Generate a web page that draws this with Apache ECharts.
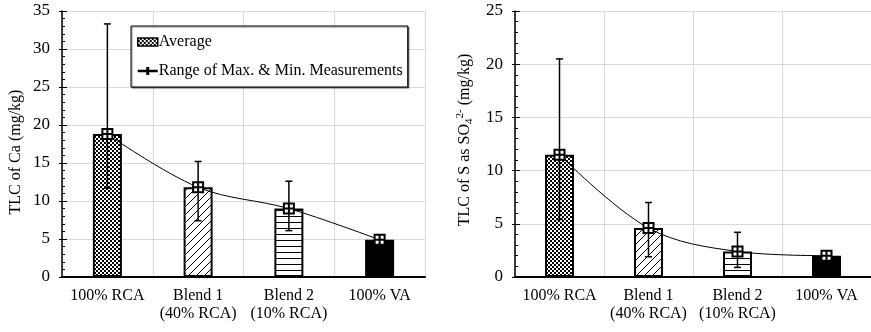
<!DOCTYPE html>
<html>
<head>
<meta charset="utf-8">
<script src="https://cdn.jsdelivr.net/npm/echarts@6/dist/echarts.min.js"></script>
<style>html,body{margin:0;padding:0;background:#fff}#c{width:871px;height:332px}</style>
</head>
<body>
<div id="c"></div>
<script>
const categories = ['100% RCA', 'Blend 1\n(40% RCA)', 'Blend 2\n(10% RCA)', '100% VA'];
const caAvg = [18.8, 11.8, 9.0, 4.9];
const caMax = [33.3, 15.2, 12.6, 4.9];
const caMin = [11.7, 7.4, 6.1, 4.9];
const sAvg = [11.5, 4.6, 2.4, 2.0];
const sMax = [20.5, 7.0, 4.2, 2.0];
const sMin = [5.4, 1.9, 0.9, 2.0];
const caAxis = { min: 0, max: 35, interval: 5 };
const sAxis = { min: 0, max: 25, interval: 5 };
const legendNames = ['Average', 'Range of Max. & Min. Measurements'];

const FONT = 'Liberation Serif';

function makeCanvas(w, h, draw) {
  const c = document.createElement('canvas');
  c.width = w; c.height = h;
  const ctx = c.getContext('2d');
  ctx.fillStyle = '#fff'; ctx.fillRect(0, 0, w, h);
  draw(ctx);
  return c;
}
const checker = makeCanvas(4, 4, ctx => {
  ctx.fillStyle = '#000'; ctx.fillRect(0, 0, 4, 4);
  ctx.fillStyle = '#fff'; ctx.fillRect(0, 0, 2, 2); ctx.fillRect(2, 2, 2, 2);
});
const hatch = makeCanvas(8, 8, ctx => {
  ctx.strokeStyle = '#000'; ctx.lineWidth = 1;
  ctx.beginPath();
  ctx.moveTo(-1, 9); ctx.lineTo(9, -1);
  ctx.moveTo(-1, 1); ctx.lineTo(1, -1);
  ctx.moveTo(7, 9); ctx.lineTo(9, 7);
  ctx.stroke();
});
const hlines = makeCanvas(2, 6, ctx => {
  ctx.fillStyle = '#000'; ctx.fillRect(0, 0, 2, 1);
});
const patterns = [
  { image: checker, repeat: 'repeat' },
  { image: hatch, repeat: 'repeat' },
  { image: hlines, repeat: 'repeat' },
  '#000'
];

function barData(vals) {
  return vals.map((v, i) => ({ value: v, itemStyle: { color: patterns[i] } }));
}
function errData(mins, maxs) {
  return mins.map((m, i) => [i, m, maxs[i]]);
}
function renderErr(params, api) {
  const x = api.value(0);
  const lo = api.coord([x, api.value(1)]);
  const hi = api.coord([x, api.value(2)]);
  const cw = 3.5;
  const st = { stroke: '#000', lineWidth: 1.5 };
  return {
    type: 'group',
    children: [
      { type: 'line', shape: { x1: lo[0], y1: lo[1], x2: hi[0], y2: hi[1] }, style: st },
      { type: 'line', shape: { x1: hi[0] - cw, y1: hi[1], x2: hi[0] + cw, y2: hi[1] }, style: st },
      { type: 'line', shape: { x1: lo[0] - cw, y1: lo[1], x2: lo[0] + cw, y2: lo[1] }, style: st }
    ]
  };
}

const markerPath = 'path://M0,0L10,0L10,10L0,10Z M5,0L5,10 M0,5L10,5';

function xAxisCfg(gi) {
  return {
    type: 'category', gridIndex: gi, data: categories,
    axisLine: { lineStyle: { color: '#000', width: 2 } },
    axisTick: { alignWithLabel: true, length: 4, lineStyle: { color: '#000', width: 1 } },
    axisLabel: { color: '#000', fontFamily: FONT, fontSize: 16, lineHeight: 18, margin: 10, interval: 0 },
    splitLine: { show: true, lineStyle: { color: '#d9d9d9', width: 1 } }
  };
}
function yAxisCfg(gi, ax, name, rich, pad, gap) {
  return {
    type: 'value', gridIndex: gi, min: ax.min, max: ax.max, interval: ax.interval,
    name: name, nameLocation: 'middle', nameGap: gap,
    nameTextStyle: { color: '#000', fontFamily: FONT, fontSize: 16, padding: pad, rich: rich },
    axisLine: { show: true, lineStyle: { color: '#000', width: 1.5 } },
    axisTick: { show: true, inside: true, length: 5, lineStyle: { color: '#000', width: 1 } },
    minorTick: { show: true, splitNumber: 5, length: 3, lineStyle: { color: '#000', width: 1 } },
    axisLabel: { color: '#000', fontFamily: FONT, fontSize: 17, margin: 12 },
    splitLine: { show: true, lineStyle: { color: '#d9d9d9', width: 1 } }
  };
}
function yOverlay(gi, ax) {
  return {
    type: 'value', gridIndex: gi, min: ax.min, max: ax.max, interval: ax.interval, position: 'left',
    axisLine: { show: false }, axisLabel: { show: false }, splitLine: { show: false },
    axisTick: { show: true, inside: false, length: 3, lineStyle: { color: '#000', width: 1 } }
  };
}

const sRich = {
  a: { fontFamily: FONT, fontSize: 16, lineHeight: 20, color: '#000' },
  sub: { fontFamily: FONT, fontSize: 11, lineHeight: 11, verticalAlign: 'bottom', color: '#000' },
  sup: { fontFamily: FONT, fontSize: 11, lineHeight: 11, verticalAlign: 'top', color: '#000' }
};

const chart = echarts.init(document.getElementById('c'), null, { renderer: 'canvas' });
chart.setOption({
  animation: false,
  backgroundColor: '#fff',
  grid: [
    { left: 62, top: 11, width: 363, height: 266 },
    { left: 515, top: 11, width: 360, height: 266 }
  ],
  legend: {
    left: 131, top: 26, orient: 'vertical',
    backgroundColor: '#fff', borderColor: '#000', borderWidth: 1,
    shadowColor: 'rgba(0,0,0,0.5)', shadowOffsetX: 1, shadowOffsetY: 1, shadowBlur: 1,
    padding: [8, 5, 8, 6], itemGap: 13, itemWidth: 20, itemHeight: 8,
    textStyle: { color: '#000', fontFamily: FONT, fontSize: 16, padding: [0, 0, 0, -4] },
    selectedMode: false,
    data: [
      { name: legendNames[0], icon: 'rect', itemStyle: { color: patterns[0], borderColor: '#000', borderWidth: 1.5 } },
      { name: legendNames[1], icon: 'path://M0,3.8L20,3.8L20,6.2L0,6.2Z M8.5,1L11.5,1L11.5,9L8.5,9Z', itemStyle: { color: '#000', borderWidth: 0 } }
    ]
  },
  xAxis: [xAxisCfg(0), xAxisCfg(1)],
  yAxis: [
    yAxisCfg(0, caAxis, 'TLC of Ca (mg/kg)', null, [0, 16, 0, 0], 38),
    yAxisCfg(1, sAxis, '{a|TLC of S as SO}{sub|4}{sup|2-}{a| (mg/kg)}', sRich, [0, 0, 0, 8], 40),
    yOverlay(0, caAxis),
    yOverlay(1, sAxis)
  ],
  series: [
    { name: legendNames[0], type: 'bar', xAxisIndex: 0, yAxisIndex: 0, barWidth: 29,
      itemStyle: { color: patterns[0], borderColor: '#000', borderWidth: 2 }, data: barData(caAvg), z: 2 },
    { name: legendNames[1], type: 'custom', xAxisIndex: 0, yAxisIndex: 0, renderItem: renderErr,
      encode: { x: 0, y: [1, 2] }, data: errData(caMin, caMax), z: 3 },
    { name: 'trend1', type: 'line', xAxisIndex: 0, yAxisIndex: 0, data: caAvg, smooth: 0.35,
      symbol: markerPath, symbolSize: 10,
      lineStyle: { color: '#000', width: 1 },
      itemStyle: { color: '#fff', borderColor: '#000', borderWidth: 2 }, z: 4 },
    { name: 'Average S', type: 'bar', xAxisIndex: 1, yAxisIndex: 1, barWidth: 29,
      itemStyle: { color: patterns[0], borderColor: '#000', borderWidth: 2 }, data: barData(sAvg), z: 2 },
    { name: 'Range S', type: 'custom', xAxisIndex: 1, yAxisIndex: 1, renderItem: renderErr,
      encode: { x: 0, y: [1, 2] }, data: errData(sMin, sMax), z: 3 },
    { name: 'trend2', type: 'line', xAxisIndex: 1, yAxisIndex: 1, data: sAvg, smooth: 0.35,
      symbol: markerPath, symbolSize: 10,
      lineStyle: { color: '#000', width: 1 },
      itemStyle: { color: '#fff', borderColor: '#000', borderWidth: 2 }, z: 4 }
  ]
});
</script>
</body>
</html>
